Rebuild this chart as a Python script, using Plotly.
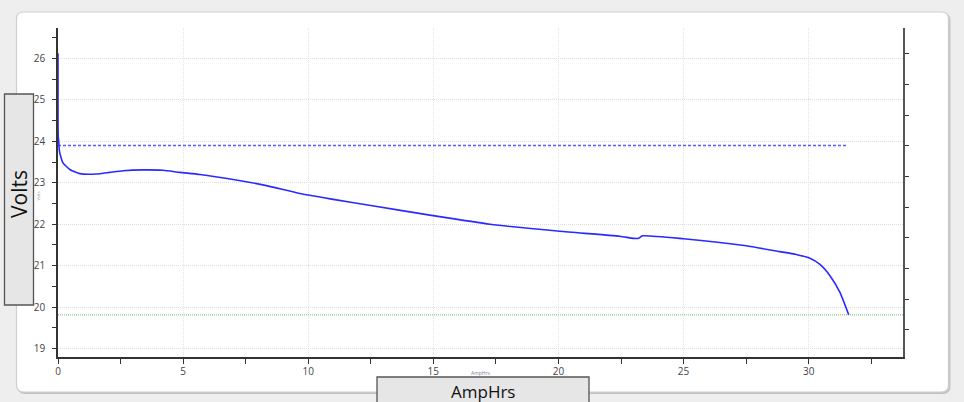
import plotly.graph_objects as go

# ---- data ----
amp_hrs = [0.0, 0.0, 0.01, 0.03, 0.05, 0.1, 0.2, 0.47, 0.87, 1.53, 2.07, 2.6, 3.4, 4.2,
           4.87, 5.67, 7.0, 8.33, 9.66, 11.0, 12.5, 14.86, 17.26, 20.06, 22.45, 23.0,
           23.2, 23.35, 25.0, 27.5, 28.85, 29.5, 30.05, 30.45, 30.85, 31.25, 31.6]
volts = [26.12, 24.6, 24.1, 24.0, 23.8, 23.65, 23.48, 23.32, 23.22, 23.21, 23.25, 23.29,
         23.31, 23.3, 23.25, 23.2, 23.08, 22.93, 22.74, 22.6, 22.45, 22.22, 22.0, 21.83,
         21.71, 21.66, 21.66, 21.72, 21.65, 21.48, 21.34, 21.27, 21.18, 21.03, 20.76,
         20.36, 19.82]
ref_level = 23.9
ref_end = 31.55
cutoff_level = 19.82
x_range = [0, 33.77]
y_range = [18.8, 26.73]
x_tick_vals = [0, 5, 10, 15, 20, 25, 30]
y_tick_vals = [19, 20, 21, 22, 23, 24, 25, 26]
y2_range = [-0.886, 9.84]

W, H = 964, 402
ML, MR, MT, MB = 58, 61, 28, 45
PW, PH = W - ML - MR, H - MT - MB


def px(x):
    return (x - ML) / PW


def py(y):
    return (H - MB - y) / PH


def rounded(x0p, y0p, x1p, y1p, r):
    x0, x1 = px(x0p), px(x1p)
    yt, yb = py(y0p), py(y1p)
    rx, ry = r / PW, r / PH
    return (f"M {x0+rx},{yt} L {x1-rx},{yt} Q {x1},{yt} {x1},{yt-ry} "
            f"L {x1},{yb+ry} Q {x1},{yb} {x1-rx},{yb} L {x0+rx},{yb} "
            f"Q {x0},{yb} {x0},{yb+ry} L {x0},{yt-ry} Q {x0},{yt} {x0+rx},{yt} Z")


fig = go.Figure()

fig.add_trace(go.Scatter(x=[0, x_range[1]], y=[cutoff_level, cutoff_level], mode="lines",
                         line=dict(color="#9fd49f", width=1.5, dash="1px,1px"),
                         hoverinfo="skip", showlegend=False))
fig.add_trace(go.Scatter(x=[0, ref_end], y=[ref_level, ref_level], mode="lines",
                         line=dict(color="#5a5aff", width=1.5, dash="3px,2px"),
                         hoverinfo="skip", showlegend=False))
fig.add_trace(go.Scatter(x=amp_hrs, y=volts, mode="lines",
                         line=dict(color="#2a2aff", width=1.6, shape="spline", smoothing=0.5),
                         showlegend=False))
fig.add_trace(go.Scatter(x=[], y=[], yaxis="y2", showlegend=False, hoverinfo="skip"))

shapes = [
    dict(type="path", xref="paper", yref="paper", layer="below",
         path=rounded(18, 13.5, 950, 393.5, 7), fillcolor="#c4c4c4",
         line=dict(color="#c4c4c4", width=1)),
    dict(type="path", xref="paper", yref="paper", layer="below",
         path=rounded(16.5, 12, 948.5, 392, 7), fillcolor="white",
         line=dict(color="#cfcfcf", width=1.2)),
    dict(type="rect", xref="paper", yref="paper", layer="above",
         x0=px(4.5), x1=px(33.5), y0=py(94), y1=py(305),
         fillcolor="#e6e6e6", line=dict(color="#555555", width=1.3)),
    dict(type="rect", xref="paper", yref="paper", layer="above",
         x0=px(377), x1=px(589), y0=py(377), y1=py(410),
         fillcolor="#e6e6e6", line=dict(color="#555555", width=1.3)),
]

annotations = [
    dict(text="Volts", xref="paper", yref="paper", x=px(19), y=py(194), showarrow=False,
         textangle=-90, font=dict(family="Open Sans", size=21, color="#111111"),
         xanchor="center", yanchor="middle"),
    dict(text="AmpHrs", xref="paper", yref="paper", x=px(483), y=py(391), showarrow=False,
         font=dict(family="Open Sans", size=17, color="#111111"),
         xanchor="center", yanchor="middle"),
    dict(text="AmpHrs", xref="paper", yref="paper", x=px(481), y=py(373), showarrow=False,
         font=dict(family="Open Sans", size=5, color="#8a7aa0"),
         xanchor="center", yanchor="middle"),
    dict(text="Volts", xref="paper", yref="paper", x=px(37.5), y=py(196), showarrow=False,
         textangle=-90, font=dict(family="Open Sans", size=4, color="#999999"),
         xanchor="center", yanchor="middle"),
]

fig.update_layout(
    width=W, height=H,
    margin=dict(l=ML, r=MR, t=MT, b=MB, autoexpand=False),
    paper_bgcolor="#eeeeee", plot_bgcolor="white",
    shapes=shapes, annotations=annotations,
    font=dict(family="Open Sans", size=10, color="#444444"),
    xaxis=dict(range=x_range, tickvals=x_tick_vals, ticks="", showline=True,
               linecolor="#333333", linewidth=1.5, showgrid=True, gridcolor="#e2e2e2",
               griddash="1px,1px", gridwidth=1, zeroline=False, automargin=False,
               ticklabelstandoff=4, tickfont=dict(size=10, color="#444444"),
               minor=dict(dtick=2.5, tick0=0, ticks="outside", ticklen=5,
                          tickcolor="#333333", tickwidth=1.2, showgrid=False)),
    yaxis=dict(range=y_range, tickvals=y_tick_vals, ticks="", showline=True,
               linecolor="#333333", linewidth=1.5, showgrid=True, gridcolor="#dedede",
               griddash="1px,1px", gridwidth=1, zeroline=False, automargin=False,
               ticklabelstandoff=9, tickfont=dict(size=10, color="#444444"),
               minor=dict(dtick=0.5, tick0=0, ticks="outside", ticklen=4,
                          tickcolor="#333333", tickwidth=1.2, showgrid=False)),
    yaxis2=dict(range=y2_range, dtick=1, tick0=0, overlaying="y", side="right",
                showline=True, linecolor="#555555", linewidth=1.5, ticks="outside",
                ticklen=4, tickcolor="#333333", showticklabels=False, showgrid=False,
                zeroline=False, automargin=False),
)

fig.write_html("out.html")
